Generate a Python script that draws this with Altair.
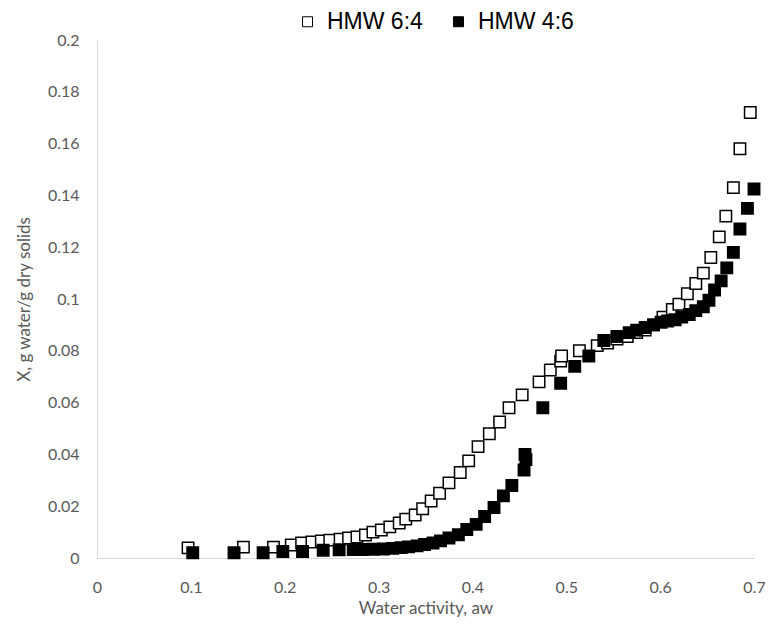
import altair as alt
import pandas as pd

# HMW 6:4 (open squares)
aw_64 = [0.097, 0.156, 0.188, 0.207, 0.218, 0.229, 0.239, 0.248, 0.259, 0.268,
         0.277, 0.286, 0.294, 0.303, 0.312, 0.322, 0.329, 0.339, 0.347, 0.356,
         0.365, 0.375, 0.387, 0.396, 0.406, 0.418, 0.429, 0.439, 0.453, 0.471,
         0.483, 0.494, 0.495, 0.514, 0.533, 0.544, 0.554, 0.565, 0.575, 0.584,
         0.593, 0.603, 0.613, 0.620, 0.629, 0.638, 0.646, 0.654, 0.663, 0.670,
         0.678, 0.685, 0.696]
x_64 = [0.0039, 0.0042, 0.0042, 0.0050, 0.0058, 0.0062, 0.0066, 0.0069, 0.0073, 0.0077,
        0.0081, 0.0089, 0.0100, 0.0108, 0.0120, 0.0135, 0.0150, 0.0166, 0.0190, 0.0220,
        0.0250, 0.0290, 0.0330, 0.0375, 0.0430, 0.0480, 0.0525, 0.0580, 0.0630, 0.0680,
        0.0726, 0.0760, 0.0780, 0.0800, 0.0820, 0.0830, 0.0845, 0.0855, 0.0870, 0.0880,
        0.0900, 0.0930, 0.0960, 0.0980, 0.1020, 0.1060, 0.1100, 0.1160, 0.1240, 0.1320,
        0.1430, 0.1580, 0.1720]

# HMW 4:6 (filled squares)
aw_46 = [0.102, 0.146, 0.177, 0.198, 0.219, 0.241, 0.258, 0.273, 0.283, 0.294,
         0.305, 0.315, 0.324, 0.332, 0.341, 0.349, 0.358, 0.366, 0.375, 0.385,
         0.394, 0.404, 0.413, 0.423, 0.433, 0.442, 0.455, 0.457, 0.456, 0.475,
         0.494, 0.509, 0.524, 0.540, 0.554, 0.567, 0.575, 0.584, 0.593, 0.601,
         0.608, 0.616, 0.623, 0.631, 0.638, 0.646, 0.652, 0.658, 0.665, 0.671,
         0.678, 0.685, 0.693, 0.700]
x_46 = [0.0020, 0.0020, 0.0020, 0.0025, 0.0025, 0.0030, 0.0032, 0.0033, 0.0033, 0.0034,
        0.0035, 0.0037, 0.0040, 0.0043, 0.0047, 0.0052, 0.0058, 0.0066, 0.0077, 0.0090,
        0.0110, 0.0130, 0.0160, 0.0195, 0.0240, 0.0280, 0.0340, 0.0380, 0.0400, 0.0580,
        0.0675, 0.0740, 0.0780, 0.0840, 0.0855, 0.0870, 0.0880, 0.0890, 0.0900, 0.0910,
        0.0915, 0.0920, 0.0930, 0.0940, 0.0955, 0.0970, 0.0995, 0.1035, 0.1070, 0.1120,
        0.1180, 0.1270, 0.1350, 0.1425]

series = ["HMW 6:4", "HMW 4:6"]
x_ticks = [0, 0.1, 0.2, 0.3, 0.4, 0.5, 0.6, 0.7]
y_ticks = [0, 0.02, 0.04, 0.06, 0.08, 0.1, 0.12, 0.14, 0.16, 0.18, 0.2]

df = pd.concat([
    pd.DataFrame({"aw": aw_64, "X": x_64, "series": series[0]}),
    pd.DataFrame({"aw": aw_46, "X": x_46, "series": series[1]}),
], ignore_index=True)

axis_common = dict(
    domainColor="#d9d9d9", domainWidth=1, ticks=False, grid=False,
    labelColor="#595959", labelFont="Lato", labelFontSize=16, labelFlush=False,
    titleColor="#595959", titleFont="Lato", titleFontSize=17, titleFontWeight="normal",
    format="~g",
)

chart = alt.Chart(df).mark_square(size=130, stroke="black", strokeWidth=1.5, opacity=1).encode(
    x=alt.X("aw:Q", scale=alt.Scale(domain=[0, 0.7], nice=False),
            axis=alt.Axis(values=x_ticks, title="Water activity, aw", labelPadding=21,
                          titlePadding=5, **axis_common)),
    y=alt.Y("X:Q", scale=alt.Scale(domain=[0, 0.2], nice=False),
            axis=alt.Axis(values=y_ticks, title="X, g water/g dry solids", labelPadding=18,
                          titlePadding=14, **axis_common)),
    fill=alt.Fill("series:N", sort=series,
                  scale=alt.Scale(domain=series, range=["white", "black"]),
                  legend=alt.Legend(title=None, orient="none", direction="horizontal",
                                    legendX=199, legendY=-30, symbolType="square",
                                    symbolSize=100, symbolStrokeColor="black",
                                    symbolStrokeWidth=1, labelFont="Liberation Sans",
                                    labelFontSize=23, labelColor="black",
                                    columnPadding=24, labelOffset=8)),
).properties(
    width=657, height=518,
    autosize=alt.AutoSizeParams(type="none"),
    padding={"left": 89, "top": 32, "right": 11, "bottom": 70},
).configure_view(stroke=None)

chart.save("out.html", embed_options={"renderer": "svg", "actions": False})
